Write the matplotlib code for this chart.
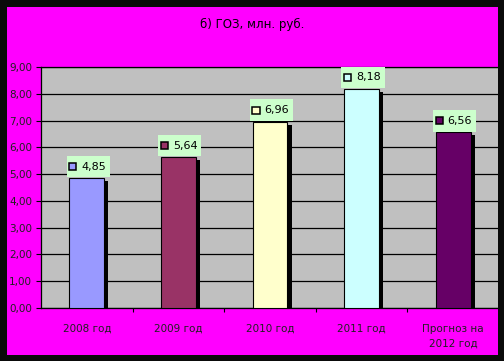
import matplotlib
matplotlib.use('Agg')
import matplotlib.pyplot as plt
from matplotlib.patches import Rectangle
from matplotlib.text import Text
from matplotlib.offsetbox import AnnotationBbox, DrawingArea

# data
categories = ['2008 год', '2009 год', '2010 год', '2011 год', 'Прогноз на\n2012 год']
values = [4.85, 5.64, 6.96, 8.18, 6.56]
value_labels = ['4,85', '5,64', '6,96', '8,18', '6,56']
bar_colors = ['#9999FF', '#993366', '#FFFFCC', '#CCFFFF', '#660066']
y_ticks = [0, 1, 2, 3, 4, 5, 6, 7, 8, 9]
y_tick_labels = ['0,00', '1,00', '2,00', '3,00', '4,00', '5,00', '6,00', '7,00', '8,00', '9,00']
title = 'б) ГОЗ, млн. руб.'

W, H = 504, 361
fig = plt.figure(figsize=(W / 100, H / 100), dpi=100)
fig.patch.set_facecolor('#0a0a0a')

# magenta chart area inside the black frame
fig.add_artist(Rectangle((7 / W, 6 / H), 491 / W, 348 / H, transform=fig.transFigure,
                         facecolor='#FF00FF', edgecolor='none', zorder=-1))

ax = fig.add_axes([41 / W, 53 / H, 458 / W, 241 / H])
ax.set_facecolor('#C0C0C0')
ax.set_xlim(-0.5, 4.5)
ax.set_ylim(0, 9)

x = list(range(len(values)))
bw = 0.38
# shadows
ax.bar([i + 0.045 for i in x], [v - 0.11 for v in values], width=bw, color='black',
       zorder=2)
ax.bar(x, values, width=bw, color=bar_colors, edgecolor='black', linewidth=0.8, zorder=3)

# grid
for t in y_ticks:
    ax.axhline(t, color='black', linewidth=0.9, zorder=1)

ax.set_yticks(y_ticks)
ax.set_yticklabels(y_tick_labels, fontsize=7.5, color='#202020')
ax.set_xticks(x)
ax.set_xticklabels(categories, fontsize=7.5, color='#202020', linespacing=1.55)
ax.set_xticks([0.5, 1.5, 2.5, 3.5], minor=True)
ax.tick_params(axis='x', which='major', length=0, pad=11.5)
ax.tick_params(axis='x', which='minor', length=3, width=0.8, direction='out', color='black')
ax.tick_params(axis='y', length=3.5, width=0.8, direction='out', pad=3, color='black')
for s in ['left', 'bottom', 'top']:
    ax.spines[s].set_color('black')
    ax.spines[s].set_linewidth(0.9)
ax.spines['right'].set_visible(False)

# data labels with legend key (box ~43x21 px)
bw_pt, bh_pt = 31, 15.5
for i, v in enumerate(values):
    da = DrawingArea(bw_pt, bh_pt, 0, 0, clip=False)
    da.add_artist(Rectangle((0, 0), bw_pt, bh_pt, facecolor='#CCFFCC', edgecolor='none'))
    da.add_artist(Rectangle((1.8, bh_pt / 2 - 2.6), 5.2, 5.2, facecolor=bar_colors[i],
                            edgecolor='black', linewidth=1.1))
    da.add_artist(Text(10.5, bh_pt / 2, value_labels[i], fontsize=8, color='black',
                       ha='left', va='center'))
    ab = AnnotationBbox(da, (i, v), xybox=(1.0, 0.5), xycoords='data',
                        boxcoords='offset points', box_alignment=(0.5, 0),
                        frameon=False, pad=0)
    ab.set_zorder(5)
    ax.add_artist(ab)

fig.text(252 / W, 1 - 24 / H, title, ha='center', va='center', fontsize=8.5, color='black')

# black frame on the right overlapping the plot area
fig.add_artist(Rectangle((498 / W, 0), 6 / W, 1, transform=fig.transFigure,
                         facecolor='#0a0a0a', edgecolor='none', zorder=10))

fig.savefig('out.png', dpi=100, facecolor=fig.get_facecolor())
